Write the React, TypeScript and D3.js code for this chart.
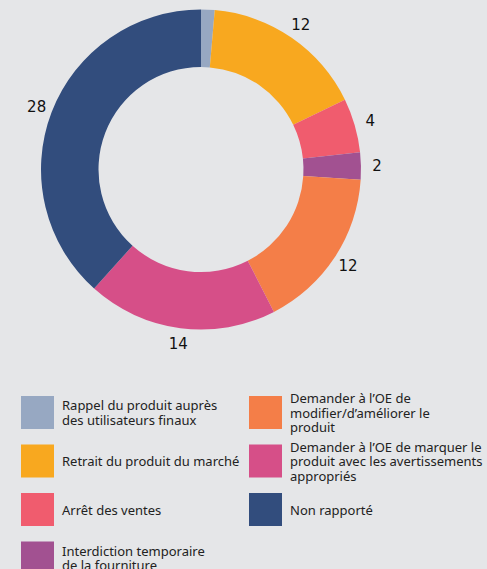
import React from 'react'
import * as d3 from 'd3'

const categories = [
  ['Rappel du produit auprès', 'des utilisateurs finaux'],
  ['Retrait du produit du marché'],
  ['Arrêt des ventes'],
  ['Interdiction temporaire', 'de la fourniture'],
  ['Demander à l’OE de', 'modifier/d’améliorer le', 'produit'],
  ['Demander à l’OE de marquer le', 'produit avec les avertissements', 'appropriés'],
  ['Non rapporté'],
]
const values = [1, 12, 4, 2, 12, 14, 28]
const colors = ['#97a8c2', '#f8a81f', '#f05c6e', '#a25191', '#f47e48', '#d64f88', '#324d7d']

const W = 487
const H = 569
const cx = 201
const cy = 169.5
const outerR = 160
const innerR = 102.5
const labelR = 176

interface Slice {
  value: number
  color: string
  lines: string[]
}

const App = () => {
  const data: Slice[] = values.map((v, i) => ({ value: v, color: colors[i], lines: categories[i] }))
  const pie = d3.pie<Slice>().value((d) => d.value).sort(null)
  const arcs = pie(data)
  const arc = d3.arc<d3.PieArcDatum<Slice>>().innerRadius(innerR).outerRadius(outerR)
  const labelArc = d3.arc<d3.PieArcDatum<Slice>>().innerRadius(labelR).outerRadius(labelR)

  // legend: two columns, filled column by column
  const perCol = 4
  const colX = d3.scaleOrdinal<number, number>().domain([0, 1]).range([21, 249])
  const rowY = d3.scaleLinear().domain([0, 1]).range([396, 444.5])
  const sw = 33
  const lineH = 14.5

  return (
    <svg
      width={W}
      height={H}
      style={{ position: 'absolute', left: 0, top: 0, display: 'block' }}
    >
      <rect width={W} height={H} fill="#e5e6e8" />
      <g transform={`translate(${cx},${cy})`}>
        {arcs.map((a, i) => (
          <path key={i} d={arc(a) || ''} fill={a.data.color} />
        ))}
        {arcs.map((a, i) => {
          const [x, y] = labelArc.centroid(a)
          return (
            <text
              key={i}
              x={x}
              y={y}
              textAnchor="middle"
              dominantBaseline="central"
              fontFamily="DejaVu Sans"
              fontSize={15}
              fill="#111"
            >
              {a.data.value}
            </text>
          )
        })}
      </g>
      <g fontFamily="Noto Sans" fontSize={13} fill="#222">
        {data.map((d, i) => {
          const col = Math.floor(i / perCol)
          const row = i % perCol
          const x = colX(col)
          const y = rowY(row)
          const mid = y + sw / 2
          const n = d.lines.length
          return (
            <g key={i}>
              <rect x={x} y={y} width={sw} height={sw} fill={d.color} />
              <text x={x + 41} y={mid - ((n - 1) * lineH) / 2} dominantBaseline="central">
                {d.lines.map((l, j) => (
                  <tspan key={j} x={x + 41} dy={j === 0 ? 0 : lineH}>
                    {l}
                  </tspan>
                ))}
              </text>
            </g>
          )
        })}
      </g>
    </svg>
  )
}

export default App
